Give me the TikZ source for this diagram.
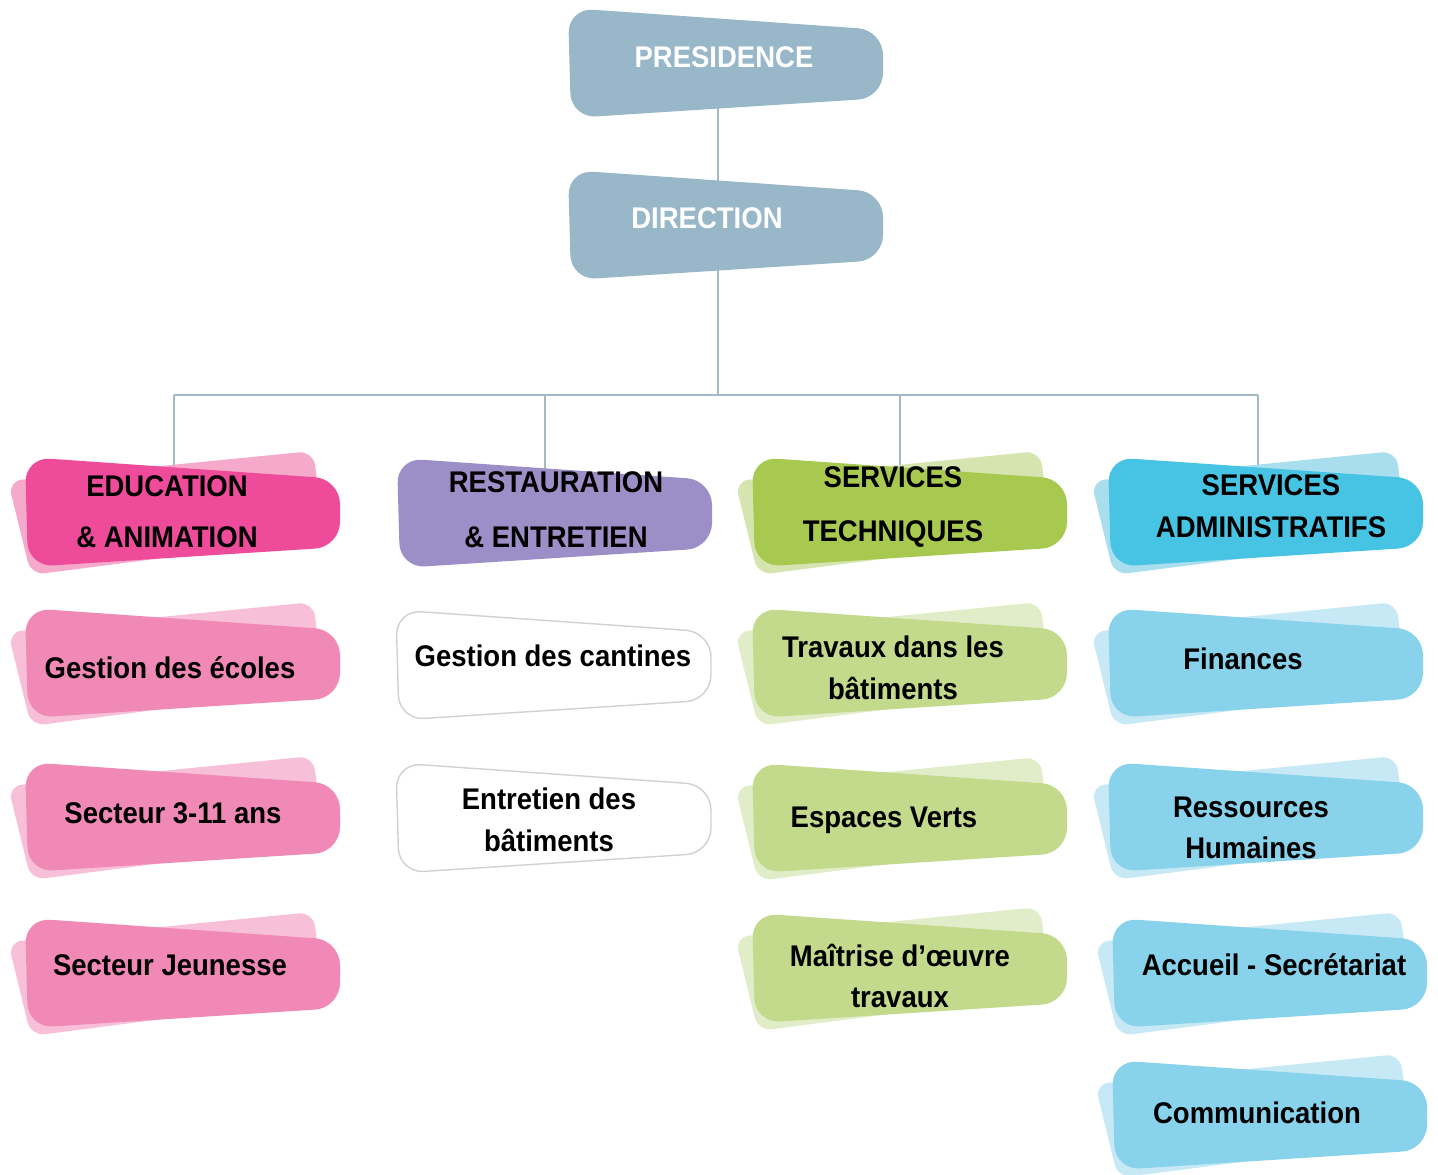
\documentclass[tikz,border=0pt]{standalone}
\usepackage{fontspec}
\setmainfont{Liberation Sans}[FakeStretch=0.92]
\usetikzlibrary{backgrounds}

\definecolor{topblue}{HTML}{98B7C9}
\definecolor{linkgray}{HTML}{A3B9C6}
\definecolor{pinkhead}{HTML}{EE4C9B}
\definecolor{pinkheadsh}{HTML}{F5AACB}
\definecolor{pinkbox}{HTML}{F089B6}
\definecolor{pinkboxsh}{HTML}{F8C0D8}
\definecolor{purplehead}{HTML}{9C8EC6}
\definecolor{greenhead}{HTML}{A8C94F}
\definecolor{greenheadsh}{HTML}{D6E5B0}
\definecolor{greenbox}{HTML}{C3D98B}
\definecolor{greenboxsh}{HTML}{E1ECC8}
\definecolor{cyanhead}{HTML}{47C4E3}
\definecolor{cyanheadsh}{HTML}{A9DEEF}
\definecolor{cyanbox}{HTML}{88D2EB}
\definecolor{cyanboxsh}{HTML}{C6E9F5}

\tikzset{
  lbl/.style={font=\fontsize{8.5}{11.8}\selectfont\bfseries, align=center, inner sep=0pt},
  link/.style={draw=linkgray, line width=0.6pt},
  top/.style={fill=topblue},
  pinkh/.style={fill=pinkhead},
  pinkb/.style={fill=pinkbox},
  purph/.style={fill=purplehead},
  blank/.style={fill=white, draw=black!18, line width=0.4pt},
  greenh/.style={fill=greenhead},
  greenb/.style={fill=greenbox},
  cyanh/.style={fill=cyanhead},
  cyanb/.style={fill=cyanbox},
}

% brush stroke box: left x, top y, main look, shadow colour
\newcommand{\brush}[4]{%
  \path[fill=#4, rounded corners=0.14cm] ({#1-17},{#2+24}) -- ({#1+288},{#2-6})
    -- ({#1+300},{#2+80}) -- ({#1+6},{#2+118}) -- cycle;
  \path[#3, rounded corners=0.25cm] (#1,#2) -- ({#1+315},{#2+22})
    -- ({#1+315},{#2+90}) -- ({#1+3},{#2+110}) -- cycle;
}

\begin{document}
\begin{tikzpicture}[x=0.01cm, y=-0.01cm]
\useasboundingbox (0,0) rectangle (1438,1175);

% top
\brush{568}{8}{top}{none}
\node[lbl, text=white] (pres) at (724,57) {PRESIDENCE};
\brush{568}{170}{top}{none}
\node[lbl, text=white] (dir) at (707,218) {DIRECTION};

% heads
\brush{25}{457}{pinkh}{pinkheadsh}
\node[lbl] (edu) at (167,512) {EDUCATION\\[2.7pt]\& ANIMATION};
\brush{397}{458}{purph}{none}
\node[lbl] (rest) at (556,510) {RESTAURATION\\[3.8pt]\& ENTRETIEN};
\brush{752}{457}{greenh}{greenheadsh}
\node[lbl] (tech) at (893,507) {SERVICES\\[3.8pt]TECHNIQUES};
\brush{1108}{457}{cyanh}{cyanheadsh}
\node[lbl] (admin) at (1271,506) {SERVICES\\ADMINISTRATIFS};

% education
\brush{25}{608}{pinkb}{pinkboxsh}
\node[lbl] (ecoles) at (170,668) {Gestion des écoles};
\brush{25}{762}{pinkb}{pinkboxsh}
\node[lbl] (sect) at (173,813) {Secteur 3-11 ans};
\brush{25}{918}{pinkb}{pinkboxsh}
\node[lbl] (jeun) at (170,965) {Secteur Jeunesse};

% restauration
\brush{396}{610}{blank}{none}
\node[lbl] (cant) at (553,656) {Gestion des cantines};
\brush{396}{763}{blank}{none}
\node[lbl] (entr) at (549,820) {Entretien des\\bâtiments};

% techniques
\brush{752}{608}{greenb}{greenboxsh}
\node[lbl] (trav) at (893,668) {Travaux dans les\\bâtiments};
\brush{752}{763}{greenb}{greenboxsh}
\node[lbl] (verts) at (884,820) {Espaces Verts};
\brush{752}{913}{greenb}{greenboxsh}
\node[lbl] (moe) at (900,976) {Maîtrise d’œuvre\\travaux};

% administratifs
\brush{1108}{608}{cyanb}{cyanboxsh}
\node[lbl] (fin) at (1243,659) {Finances};
\brush{1108}{762}{cyanb}{cyanboxsh}
\node[lbl] (rh) at (1251,828) {Ressources\\Humaines};
\brush{1112}{918}{cyanb}{cyanboxsh}
\node[lbl] (accueil) at (1274,965) {Accueil - Secrétariat};
\brush{1112}{1060}{cyanb}{cyanboxsh}
\node[lbl] (comm) at (1257,1113) {Communication};

\begin{pgfonlayer}{background}
\coordinate (bus) at (718,395);
\coordinate (busL) at (174,395);
\coordinate (busR) at (1258,395);
\draw[link] (pres.center -| bus) -- (dir.center -| bus);
\draw[link] (dir.center -| bus) -- (bus);
\draw[link] (busL) -- (busR);
\foreach \x/\n in {174/edu,545/rest,900/tech,1258/admin}{
  \coordinate (d\n) at (\x,395);
  \draw[link] (d\n) -- (d\n |- \n);
}
\end{pgfonlayer}
\end{tikzpicture}
\end{document}
